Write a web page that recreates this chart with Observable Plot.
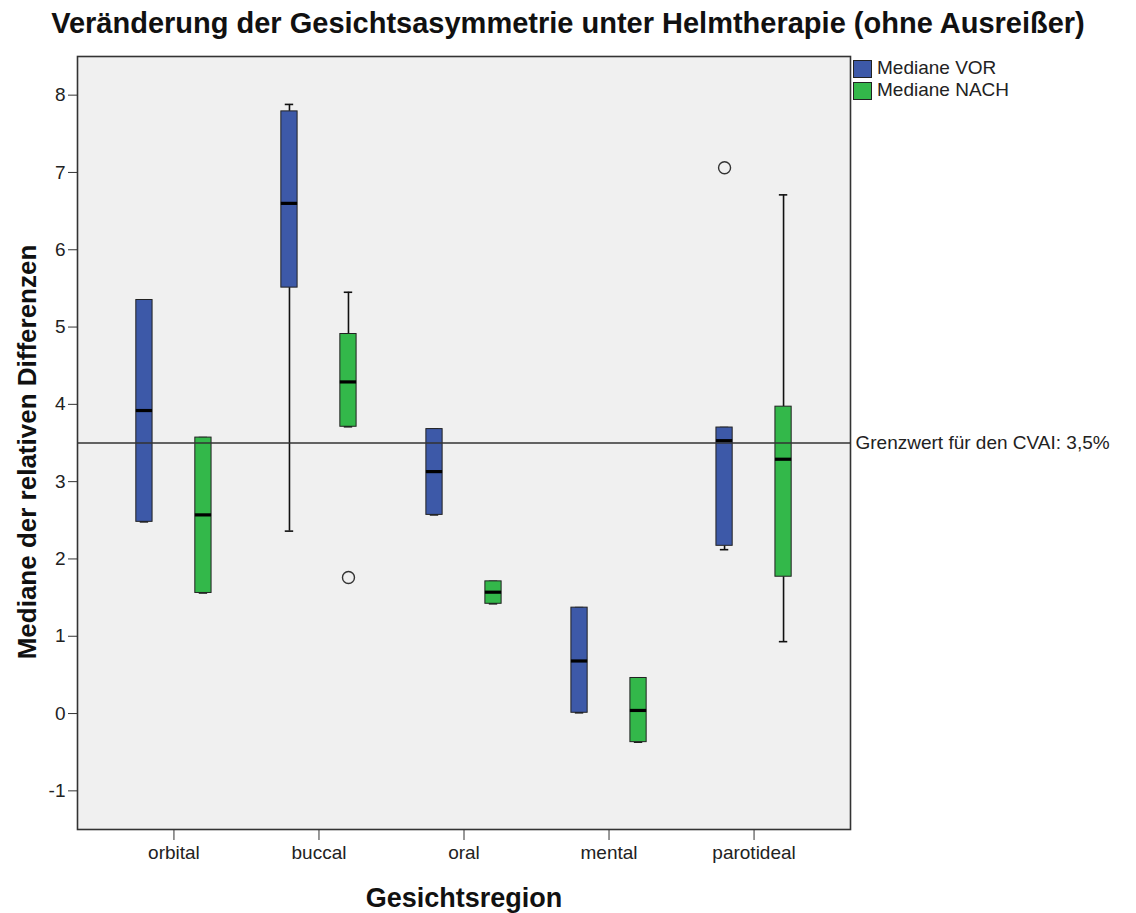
<!DOCTYPE html>
<html>
<head>
<meta charset="utf-8">
<script src="https://cdn.jsdelivr.net/npm/d3@7"></script>
<script src="https://cdn.jsdelivr.net/npm/@observablehq/plot@0.6"></script>
<style>
  html, body { margin: 0; padding: 0; background: #fff; }
  body { width: 1136px; height: 913px; position: relative; overflow: hidden; font-family: "Liberation Sans", Arial, sans-serif; }
  #title { height: 46px; line-height: 46px; text-align: center; font-size: 29px; font-weight: bold; color: #111; white-space: nowrap; }
  #legend { position: absolute; left: 853px; top: 60px; font-size: 19px; color: #222; }
  .item { position: relative; height: 22px; }
  .sw { position: absolute; left: 0; top: 0; width: 17px; height: 16px; border: 1px solid #222; }
  .lab { position: absolute; left: 24px; top: -3px; line-height: 22px; white-space: nowrap; }
</style>
</head>
<body>
<div id="title">Veränderung der Gesichtsasymmetrie unter Helmtherapie (ohne Ausreißer)</div>
<div id="chart"></div>
<div id="legend"></div>
<script>
// ---- data ----
const regions = ["orbital", "buccal", "oral", "mental", "parotideal"];
const groups = ["Mediane VOR", "Mediane NACH"];
const colors = ["#3d59a8", "#33b84a"];

const vorMin = [2.48, 2.36, 2.57, 0.01, 2.12];
const vorQ1  = [2.48, 5.51, 2.57, 0.01, 2.17];
const vorMed = [3.92, 6.60, 3.13, 0.68, 3.53];
const vorQ3  = [5.35, 7.79, 3.68, 1.37, 3.70];
const vorMax = [5.35, 7.88, 3.68, 1.37, 3.70];

const nachMin = [1.56, 3.71, 1.42, -0.37, 0.93];
const nachQ1  = [1.56, 3.71, 1.42, -0.37, 1.77];
const nachMed = [2.57, 4.29, 1.57, 0.04, 3.29];
const nachQ3  = [3.57, 4.91, 1.71, 0.46, 3.97];
const nachMax = [3.57, 5.45, 1.71, 0.46, 6.71];

const outlierRegion = ["buccal", "parotideal"];
const outlierGroup  = ["Mediane NACH", "Mediane VOR"];
const outlierValue  = [1.76, 7.06];

const thresholdValue = [3.5];
const thresholdLabel = "Grenzwert für den CVAI: 3,5%";
const yTicks = [-1, 0, 1, 2, 3, 4, 5, 6, 7, 8];

// ---- build table ----
const groupOffset = {"Mediane VOR": -0.2034, "Mediane NACH": 0.2034};
const halfBox = 0.056, halfCap = 0.029;
const boxes = [];
regions.forEach((r, i) => {
  boxes.push({region: r, group: groups[0], pos: i + groupOffset[groups[0]],
    min: vorMin[i], q1: vorQ1[i], med: vorMed[i], q3: vorQ3[i], max: vorMax[i]});
  boxes.push({region: r, group: groups[1], pos: i + groupOffset[groups[1]],
    min: nachMin[i], q1: nachQ1[i], med: nachMed[i], q3: nachQ3[i], max: nachMax[i]});
});
const outliers = outlierValue.map((v, k) => ({
  pos: regions.indexOf(outlierRegion[k]) + groupOffset[outlierGroup[k]], value: v
}));

const chart = Plot.plot({
  width: 1136,
  height: 867,
  marginLeft: 77,
  marginRight: 286,
  marginTop: 10,
  marginBottom: 84,
  style: {fontFamily: "Liberation Sans, Arial, sans-serif", fontSize: "19px", color: "#222", background: "transparent"},
  x: {domain: [-0.665, 4.665]},
  y: {domain: [-1.5, 8.5]},
  color: {domain: groups, range: colors},
  marks: [
    Plot.frame({fill: "#f0f0f0", stroke: "none"}),
    // whiskers
    Plot.ruleX(boxes, {x: "pos", y1: "min", y2: "q1", stroke: "#111", strokeWidth: 1.6}),
    Plot.ruleX(boxes, {x: "pos", y1: "q3", y2: "max", stroke: "#111", strokeWidth: 1.6}),
    Plot.ruleY(boxes, {y: "max", x1: d => d.pos - halfCap, x2: d => d.pos + halfCap, stroke: "#111", strokeWidth: 1.6}),
    Plot.ruleY(boxes, {y: "min", x1: d => d.pos - halfCap, x2: d => d.pos + halfCap, stroke: "#111", strokeWidth: 1.6}),
    // boxes
    Plot.rect(boxes, {x1: d => d.pos - halfBox, x2: d => d.pos + halfBox, y1: "q1", y2: "q3", fill: "group", stroke: "#222", strokeWidth: 1}),
    // medians
    Plot.ruleY(boxes, {y: "med", x1: d => d.pos - halfBox, x2: d => d.pos + halfBox, stroke: "#000", strokeWidth: 3.2}),
    // outliers
    Plot.dot(outliers, {x: "pos", y: "value", r: 6, stroke: "#333", strokeWidth: 1.4, fill: "none"}),
    // threshold
    Plot.ruleY(thresholdValue, {stroke: "#333", strokeWidth: 1.3}),
    Plot.text(thresholdValue, {y: d => d, frameAnchor: "right", dx: 5, textAnchor: "start", text: () => thresholdLabel, fill: "#222", fontSize: 19}),
    // axes
    Plot.axisY({ticks: yTicks, tickSize: 9, tickPadding: 3, tickFormat: d => String(d), label: null, stroke: "#333", fill: "#222"}),
    Plot.axisX({ticks: [0, 1, 2, 3, 4], tickFormat: i => regions[i], tickSize: 11, tickPadding: 5, label: null, stroke: "#333", fill: "#222"}),
    Plot.frame({stroke: "#333", strokeWidth: 1.6}),
    // axis titles
    Plot.text(["Gesichtsregion"], {frameAnchor: "bottom", dy: 77, lineAnchor: "bottom", text: d => d, fontSize: 27, fontWeight: "bold", fill: "#111"}),
    Plot.text(["Mediane der relativen Differenzen"], {frameAnchor: "left", dx: -42, dy: 9, rotate: -90, lineAnchor: "bottom", textAnchor: "middle", text: d => d, fontSize: 26, fontWeight: "bold", fill: "#111"})
  ]
});
document.getElementById("chart").appendChild(chart);

// legend
const legend = document.getElementById("legend");
groups.forEach((g, k) => {
  const item = document.createElement("div");
  item.className = "item";
  const sw = document.createElement("div");
  sw.className = "sw";
  sw.style.background = colors[k];
  const lab = document.createElement("div");
  lab.className = "lab";
  lab.textContent = g;
  item.appendChild(sw); item.appendChild(lab);
  legend.appendChild(item);
});
</script>
</body>
</html>
